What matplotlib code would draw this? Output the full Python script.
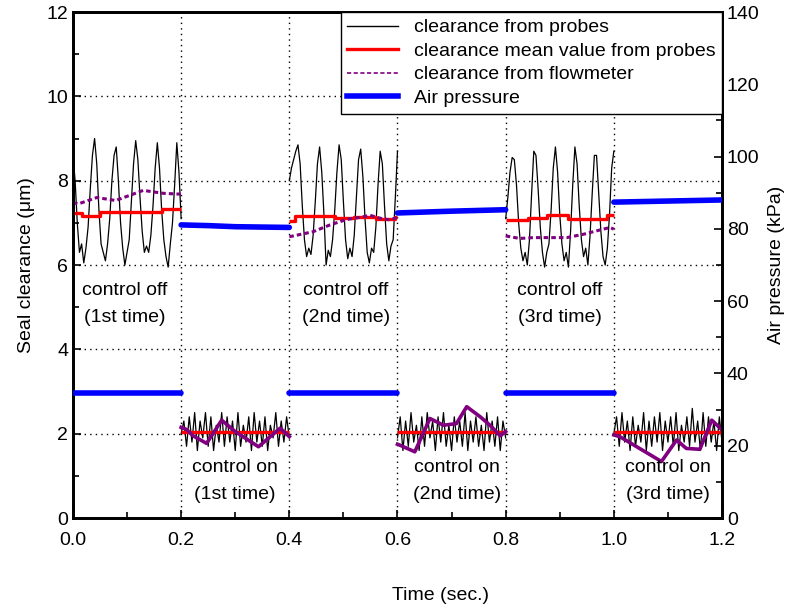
import numpy as np
import matplotlib
matplotlib.use("Agg")
import matplotlib.pyplot as plt
from matplotlib.ticker import MultipleLocator, FormatStrFormatter

plt.rcParams['font.family'] = ['Liberation Sans', 'DejaVu Sans']

# segment bounds (s)
seg_off = [(0.0, 0.2), (0.4, 0.6), (0.8, 1.0)]
seg_on = [(0.2, 0.4), (0.6, 0.8), (1.0, 1.2)]

# clearance from probes, control off (um), evenly spaced in each segment
probe_off1 = [8.6, 8.0, 7.0, 6.3, 6.5, 6.05, 6.4, 6.9, 7.8, 8.6, 9.0, 8.4, 7.3, 6.5, 6.3, 6.1, 6.5,
              7.1, 8.0, 8.6, 8.8, 8.0, 7.0, 6.4, 6.0, 6.3, 6.6, 7.5, 8.4, 8.95, 8.5, 7.6, 6.8, 6.3,
              6.45, 6.3, 6.7, 7.4, 8.3, 8.9, 8.3, 7.3, 6.6, 6.2, 5.95, 6.5, 7.0, 7.9, 8.9, 8.2, 7.1]
probe_off2 = [8.0, 8.3, 8.5, 8.7, 8.85, 8.4, 7.4, 6.6, 6.2, 6.4, 6.25, 6.7, 7.5, 8.4, 8.8, 8.2, 7.2,
              6.0, 6.35, 6.2, 6.6, 7.3, 8.2, 8.85, 8.5, 7.5, 6.6, 6.15, 6.4, 6.2, 6.7, 7.6, 8.5, 8.75,
              8.1, 7.1, 6.3, 6.05, 6.4, 6.3, 6.9, 7.9, 8.7, 8.4, 7.4, 6.5, 6.1, 6.45, 6.6, 7.6, 8.7]
probe_off3 = [7.1, 7.6, 8.2, 8.55, 8.5, 7.9, 7.0, 6.4, 6.1, 6.3, 6.0, 6.6, 7.7, 8.7, 8.6, 7.8, 6.9,
              6.3, 5.95, 6.3, 6.5, 7.3, 8.3, 8.8, 8.2, 7.2, 6.5, 6.1, 6.3, 5.95, 6.8, 7.9, 8.8, 8.4,
              7.4, 6.6, 6.2, 6.4, 6.0, 6.7, 7.7, 8.6, 8.6, 7.7, 6.8, 6.2, 6.0, 6.4, 7.2, 8.3, 8.7]

# clearance from probes, control on (um)
probe_on1 = [2.0, 2.3, 1.7, 2.4, 1.8, 2.5, 1.6, 2.3, 1.9, 2.5, 1.7, 2.4, 1.6, 2.2, 1.8, 2.5, 1.7,
             2.4, 1.8, 2.3, 1.6, 2.5, 1.7, 2.2, 1.8, 2.4, 1.6, 2.5, 1.8, 2.3, 1.7, 2.4, 1.6, 2.2,
             1.9, 2.5, 1.7, 2.3, 1.8, 2.4, 1.9]
probe_on2 = [1.9, 2.4, 1.6, 2.3, 1.7, 2.5, 1.8, 2.2, 1.6, 2.4, 1.7, 2.5, 1.9, 2.3, 1.6, 2.4, 1.8,
             2.5, 1.7, 2.2, 1.6, 2.4, 1.8, 2.3, 1.7, 2.5, 1.6, 2.3, 1.8, 2.4, 1.7, 2.2, 1.6, 2.5,
             1.8, 2.3, 1.7, 2.4, 1.6, 2.3, 1.9]
probe_on3 = [2.0, 2.4, 1.7, 2.5, 1.8, 2.3, 1.6, 2.4, 1.7, 2.2, 1.8, 2.5, 1.6, 2.3, 1.7, 2.4, 1.8,
             2.5, 1.6, 2.3, 1.8, 2.4, 1.7, 2.5, 1.6, 2.2, 1.8, 2.4, 1.7, 2.6, 1.8, 2.3, 1.6, 2.5,
             1.7, 2.4, 1.8, 2.3, 1.6, 2.4, 1.8]

# mean value from probes (step changes)
mean_t = [[0.0, 0.016, 0.05, 0.165, 0.2],
          [0.2, 0.4],
          [0.4, 0.41, 0.485, 0.52, 0.56, 0.595, 0.6],
          [0.6, 0.8],
          [0.8, 0.841, 0.876, 0.916, 0.987, 1.0],
          [1.0, 1.2]]
mean_v = [[7.24, 7.17, 7.25, 7.33, 7.33],
          [2.03, 2.03],
          [7.05, 7.16, 7.11, 7.15, 7.08, 7.15, 7.15],
          [2.03, 2.03],
          [7.07, 7.11, 7.18, 7.08, 7.18, 7.18],
          [2.04, 2.04]]

# clearance from flowmeter
flow_t = [[0.0, 0.01, 0.044, 0.079, 0.13, 0.167, 0.2],
          [0.2, 0.21, 0.222, 0.247, 0.275, 0.30, 0.343, 0.383, 0.4],
          [0.4, 0.444, 0.475, 0.506, 0.531, 0.549, 0.568, 0.586, 0.6],
          [0.6, 0.604, 0.632, 0.66, 0.685, 0.709, 0.728, 0.753, 0.771, 0.79, 0.8],
          [0.8, 0.826, 0.851, 0.913, 0.944, 0.974, 0.993, 1.0],
          [1.0, 1.011, 1.088, 1.116, 1.134, 1.159, 1.181, 1.2]]
flow_v = [[7.48, 7.45, 7.6, 7.53, 7.77, 7.7, 7.68],
          [2.15, 2.1, 1.95, 1.77, 2.32, 2.05, 1.69, 2.13, 1.93],
          [6.67, 6.79, 6.95, 7.08, 7.13, 7.18, 7.11, 7.07, 7.13],
          [1.75, 1.73, 1.57, 2.36, 2.2, 2.24, 2.64, 2.4, 2.2, 1.95, 2.05],
          [6.69, 6.63, 6.65, 6.65, 6.73, 6.83, 6.89, 6.85],
          [1.97, 1.93, 1.34, 1.85, 1.65, 1.63, 2.32, 2.09]]

# air pressure (kPa)
press_t = [[0.0, 0.2], [0.2, 0.25, 0.3, 0.35, 0.4], [0.4, 0.6], [0.6, 0.7, 0.8], [0.8, 1.0], [1.0, 1.1, 1.2]]
press_v = [[34.7, 34.7], [81.1, 80.9, 80.6, 80.5, 80.4], [34.7, 34.7], [84.4, 84.9, 85.3], [34.7, 34.7],
           [87.4, 87.7, 88.0]]

fig = plt.figure(figsize=(7.93, 6.07), dpi=100)
ax = fig.add_axes([0.092, 0.1466, 0.8185, 0.8336])
ax2 = ax.twinx()

for (a, b), vals in zip(seg_off + seg_on, [probe_off1, probe_off2, probe_off3, probe_on1, probe_on2, probe_on3]):
    ax.plot(np.linspace(a, b, len(vals)), vals, color='black', lw=0.9, zorder=3)

for i in range(6):
    ax.plot(mean_t[i], mean_v[i], color='red', lw=2.4, drawstyle='steps-post', zorder=4,
            solid_capstyle='butt')

for i in range(6):
    if i % 2 == 0:
        ax.plot(flow_t[i], flow_v[i], color='#800080', lw=2.2, dashes=(1.5, 1.0), zorder=5)
    else:
        ax.plot(flow_t[i], flow_v[i], color='#800080', lw=2.6, zorder=5)

for i in range(6):
    ax2.plot(press_t[i], press_v[i], color='blue', lw=4, solid_capstyle='round', zorder=3)

ax.set_xlim(0, 1.2)
ax.set_ylim(0, 12)
ax2.set_ylim(0, 140)
ax.xaxis.set_major_locator(MultipleLocator(0.2))
ax.xaxis.set_minor_locator(MultipleLocator(0.1))
ax.xaxis.set_major_formatter(FormatStrFormatter('%.1f'))
ax.yaxis.set_major_locator(MultipleLocator(2))
ax.yaxis.set_minor_locator(MultipleLocator(1))
ax2.yaxis.set_major_locator(MultipleLocator(20))
ax2.yaxis.set_minor_locator(MultipleLocator(10))

ax.grid(True, which='major', color='black', linestyle=(0, (1, 3)), lw=1)
for a in (ax, ax2):
    a.tick_params(which='both', direction='in', labelsize=14, width=1.2)
    a.tick_params(which='major', length=6)
    a.tick_params(which='minor', length=4)
    for s in a.spines.values():
        s.set_linewidth(2)
ax.tick_params(axis='x', pad=10)

ax.set_ylabel('Seal clearance (\u03bcm)', fontsize=14, labelpad=8)
ax2.set_ylabel('Air pressure (kPa)', fontsize=14, labelpad=6)
fig.text(440 / 793, 1 - 595 / 607, 'Time (sec.)', fontsize=14, ha='center', va='center')

notes = [(0.096, 'control off', '(1st time)', 5.4, 4.75),
         (0.505, 'control off', '(2nd time)', 5.4, 4.75),
         (0.9, 'control off', '(3rd time)', 5.4, 4.75),
         (0.3, 'control on', '(1st time)', 1.2, 0.55),
         (0.71, 'control on', '(2nd time)', 1.2, 0.55),
         (1.1, 'control on', '(3rd time)', 1.2, 0.55)]
for x, l1, l2, y1, y2 in notes:
    ax.text(x, y1, l1, fontsize=14, ha='center', va='center', zorder=6)
    ax.text(x, y2, l2, fontsize=14, ha='center', va='center', zorder=6)

handles = [plt.Line2D([], [], color='black', lw=1),
           plt.Line2D([], [], color='red', lw=2.4),
           plt.Line2D([], [], color='#800080', lw=1.2, dashes=(2.5, 1.5)),
           plt.Line2D([], [], color='blue', lw=4)]
labels = ['clearance from probes', 'clearance mean value from probes',
          'clearance from flowmeter', 'Air pressure']
leg = ax2.legend(handles, labels, loc='upper right', fontsize=14, frameon=True, fancybox=False,
                 borderaxespad=0.0, labelspacing=0.3, handlelength=2.6, handletextpad=0.8,
                 borderpad=0.35, framealpha=1)
leg.get_frame().set_edgecolor('black')
leg.get_frame().set_linewidth(1)

fig.savefig('out.png', dpi=100)
